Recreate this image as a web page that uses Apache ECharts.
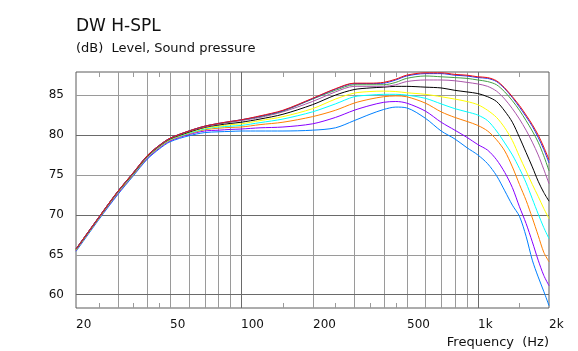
<!DOCTYPE html>
<html><head><meta charset="utf-8">
<script src="https://cdn.jsdelivr.net/npm/echarts@6/dist/echarts.min.js"></script>
<style>html,body{margin:0;padding:0;background:#fff}#c{width:578px;height:351px}</style>
</head><body><div id="c"></div>
<script>
// ---- data ----
const freqs  = [20,25,30,35,40,45,50,60,70,80,90,100,120,150,200,250,300,350,400,450,500,600,700,800,900,1000,1100,1200,1300,1400,1500,1600,1700,1800,1900,2000];
const red    = [65.7,69.7,72.9,75.3,77.4,78.7,79.6,80.5,81.1,81.45,81.7,81.9,82.4,83.1,84.6,85.8,86.5,86.5,86.6,87.0,87.5,87.8,87.8,87.6,87.5,87.3,87.2,86.8,85.9,84.8,83.7,82.5,81.3,80.0,78.5,76.9];
const blue   = [65.7,69.7,72.9,75.3,77.4,78.7,79.6,80.5,81.1,81.45,81.7,81.9,82.35,83.05,84.55,85.75,86.45,86.45,86.5,86.9,87.4,87.7,87.7,87.5,87.4,87.2,87.1,86.7,85.8,84.7,83.5,82.3,81.1,79.7,78.2,76.5];
const green  = [65.7,69.7,72.9,75.3,77.4,78.7,79.6,80.5,81.1,81.4,81.65,81.9,82.3,83.0,84.5,85.6,86.3,86.3,86.3,86.6,87.1,87.4,87.3,87.2,87.1,86.9,86.7,86.3,85.4,84.3,83.1,81.8,80.5,79.1,77.4,75.5];
const mauve  = [65.7,69.7,72.9,75.25,77.35,78.65,79.55,80.45,81.0,81.35,81.6,81.8,82.2,82.9,84.2,85.4,86.1,86.1,86.1,86.3,86.7,86.9,86.9,86.8,86.6,86.4,86.1,85.5,84.5,83.3,82.0,80.6,79.1,77.5,75.7,73.9];
const black  = [65.65,69.65,72.85,75.2,77.3,78.6,79.5,80.35,80.95,81.25,81.45,81.6,82.0,82.6,83.8,85.0,85.7,85.9,86.0,86.1,86.1,86.0,85.9,85.6,85.4,85.2,84.8,84.2,83.0,81.6,79.7,77.8,76.0,74.2,72.8,71.7];
const yellow = [65.6,69.6,72.8,75.15,77.25,78.55,79.45,80.3,80.85,81.1,81.3,81.4,81.8,82.3,83.3,84.5,85.25,85.45,85.5,85.45,85.3,85.1,84.8,84.5,84.2,83.8,83.1,82.2,80.9,79.3,77.3,75.5,73.8,72.3,70.8,69.5];
const cyan   = [65.6,69.6,72.75,75.1,77.2,78.5,79.4,80.2,80.75,81.0,81.1,81.2,81.55,82.0,82.9,83.9,84.8,85.0,85.1,85.1,85.0,84.6,83.9,83.3,82.9,82.5,81.8,80.5,79.0,77.5,75.8,74.0,72.0,70.1,68.4,67.0];
const orange = [65.55,69.55,72.7,75.05,77.15,78.45,79.35,80.15,80.65,80.85,80.95,81.0,81.3,81.6,82.3,83.1,84.0,84.5,84.8,84.9,84.8,84.0,82.9,82.2,81.7,81.2,80.5,79.4,78.0,76.0,73.8,71.8,69.6,67.4,65.3,64.1];
const violet = [65.5,69.5,72.6,75.0,77.05,78.35,79.25,80.05,80.5,80.6,80.7,80.75,80.9,81.0,81.4,82.2,83.1,83.7,84.1,84.2,84.0,83.0,81.6,80.6,79.7,78.8,78.1,76.9,75.3,73.4,71.0,68.9,66.6,64.3,62.4,61.1];
const azure  = [65.4,69.4,72.5,74.9,76.95,78.25,79.15,79.9,80.3,80.4,80.45,80.5,80.5,80.5,80.6,80.9,81.8,82.6,83.2,83.5,83.4,82.1,80.5,79.5,78.4,77.5,76.4,74.9,73.0,71.2,69.8,67.3,64.3,62.2,60.4,58.6];

const xTickValues = [20,50,100,200,500,1000,2000];
const xTickLabels = ['20','50','100','200','500','1k','2k'];
const xGridMajor  = [100,1000];
const xGridMinor  = [30,40,50,60,70,80,90,200,300,400,500,600,700,800,900];
const xMinorTicks = [25,35,45,150,250,350,450,1500];
const yGridMajor  = [60,70,80];
const yGridMinor  = [65,75,85];
const X_MIN = 20, X_MAX = 2000, Y_MIN = 58.3, Y_MAX = 87.9;

const FONT = 'DejaVu Sans';
const curves = [
  ['azure', azure, '#0080ff'],
  ['violet', violet, '#8800ff'],
  ['orange', orange, '#ff8000'],
  ['cyan', cyan, '#00ffff'],
  ['yellow', yellow, '#ffff00'],
  ['black', black, '#000000'],
  ['mauve', mauve, '#aa55aa'],
  ['green', green, '#44a044'],
  ['blue', blue, '#2233ee'],
  ['red', red, '#ee1111']
];

// grid lines data: [x, y, kind]  kind: 0 vertical minor, 1 vertical major, 2 horiz minor, 3 horiz major, 4 minor tick
const gridData = [];
xGridMinor.forEach(f => gridData.push([f, Y_MIN, 0]));
xGridMajor.forEach(f => gridData.push([f, Y_MIN, 1]));
yGridMinor.forEach(v => gridData.push([X_MIN, v, 2]));
yGridMajor.forEach(v => gridData.push([X_MIN, v, 3]));
xMinorTicks.forEach(f => gridData.push([f, Y_MIN, 4]));

const LIGHT = '#9a9a9a', DARK = '#6a6a6a';

const chart = echarts.init(document.getElementById('c'), null, {renderer: 'canvas'});
chart.setOption({
  animation: false,
  backgroundColor: '#fff',
  grid: {left: 76, right: 29, top: 72, bottom: 43, show: true, borderColor: '#5a5a5a', borderWidth: 1, backgroundColor: 'transparent'},
  graphic: [
    {type: 'text', left: 76, top: 18, style: {text: 'DW H-SPL', font: '17px "DejaVu Sans"', fill: '#111'}},
    {type: 'text', left: 76, top: 42, style: {text: '(dB)  Level, Sound pressure', font: '13px "DejaVu Sans"', fill: '#111'}},
    {type: 'text', right: 29, top: 336, style: {text: 'Frequency  (Hz)', font: '13px "DejaVu Sans"', fill: '#111'}}
  ],
  xAxis: {type: 'log', logBase: 10, min: X_MIN, max: X_MAX,
    axisLine: {show: false}, axisTick: {show: false}, axisLabel: {show: false}, splitLine: {show: false}},
  yAxis: {type: 'value', min: Y_MIN, max: Y_MAX, splitNumber: 6,
    axisLine: {show: false}, axisTick: {show: false}, splitLine: {show: false},
    axisLabel: {margin: 12, fontFamily: FONT, fontSize: 12, color: '#111',
      formatter: v => (Math.abs(v / 5 - Math.round(v / 5)) < 1e-6) ? String(Math.round(v)) : ''}},
  series: [
    {type: 'custom', z: 1, silent: true, clip: false,
      data: gridData,
      renderItem: (params, api) => {
        const kind = api.value(2);
        const x = api.value(0), y = api.value(1);
        let p1, p2, color;
        if (kind === 0 || kind === 1) {
          p1 = api.coord([x, Y_MIN]); p2 = api.coord([x, Y_MAX]);
          color = kind === 1 ? DARK : LIGHT;
          return {type: 'line', shape: {x1: Math.round(p1[0]) + 0.5, y1: p1[1], x2: Math.round(p2[0]) + 0.5, y2: p2[1]}, style: {stroke: color, lineWidth: 1}};
        } else if (kind === 2 || kind === 3) {
          p1 = api.coord([X_MIN, y]); p2 = api.coord([X_MAX, y]);
          color = kind === 3 ? DARK : LIGHT;
          return {type: 'line', shape: {x1: p1[0], y1: Math.round(p1[1]) + 0.5, x2: p2[0], y2: Math.round(p2[1]) + 0.5}, style: {stroke: color, lineWidth: 1}};
        } else {
          const b = api.coord([x, Y_MIN]), t = api.coord([x, Y_MAX]);
          const xx = Math.round(b[0]) + 0.5;
          return {type: 'group', children: [
            {type: 'line', shape: {x1: xx, y1: b[1], x2: xx, y2: b[1] - 5}, style: {stroke: LIGHT, lineWidth: 1}},
            {type: 'line', shape: {x1: xx, y1: t[1], x2: xx, y2: t[1] + 5}, style: {stroke: LIGHT, lineWidth: 1}}
          ]};
        }
      }
    },
    {type: 'custom', z: 5, silent: true, clip: false,
      data: xTickValues.map((f, i) => [f, Y_MIN, i]),
      renderItem: (params, api) => {
        const p = api.coord([api.value(0), Y_MIN]);
        return {type: 'text', x: Math.round(p[0]), y: p[1] + 11,
          style: {text: xTickLabels[api.value(2)], font: '12px "DejaVu Sans"', fill: '#111', align: 'left', verticalAlign: 'top'}};
      }
    }
  ].concat(curves.map(c => ({
    name: c[0], type: 'line', z: 3, silent: true, symbol: 'none', showSymbol: false, smooth: 0.3,
    lineStyle: {color: c[2], width: 1},
    data: freqs.map((f, i) => [f, c[1][i]])
  })))
});
</script></body></html>
